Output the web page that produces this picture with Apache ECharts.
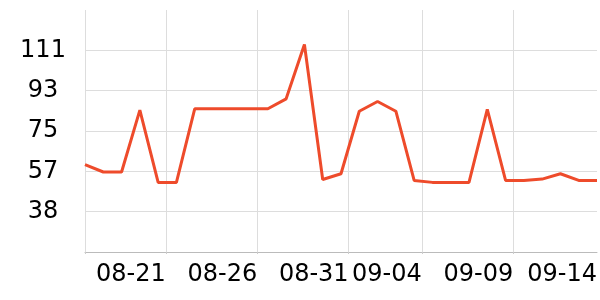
<!DOCTYPE html>
<html>
<head>
<meta charset="utf-8">
<script src="https://cdn.jsdelivr.net/npm/echarts@6/dist/echarts.min.js"></script>
<style>
  html, body { margin: 0; padding: 0; background: #fff; }
  #chart { width: 600px; height: 300px; }
</style>
</head>
<body>
<div id="chart"></div>
<script>
// Daily observations (taken at 14:00 UTC)
const dates = [
  '2023-08-16','2023-08-17','2023-08-18','2023-08-19','2023-08-20','2023-08-21',
  '2023-08-22','2023-08-23','2023-08-24','2023-08-25','2023-08-26','2023-08-27',
  '2023-08-28','2023-08-29','2023-08-30','2023-08-31','2023-09-01','2023-09-02',
  '2023-09-03','2023-09-04','2023-09-05','2023-09-06','2023-09-07','2023-09-08',
  '2023-09-09','2023-09-10','2023-09-11','2023-09-12','2023-09-13'
];
const values = [
  59.6, 56.3, 56.3, 84.3, 51.6, 51.6,
  84.9, 84.9, 84.9, 84.9, 84.9, 89.4,
  114.0, 52.9, 55.5, 83.8, 88.2, 83.8,
  52.5, 51.6, 51.6, 51.6, 84.6, 52.5,
  52.5, 53.1, 55.5, 52.5, 52.5
];
const obsHour = 14;
// x-axis tick dates (gridlines) and labels
const xTickDates = ['2023-08-21','2023-08-26','2023-08-31','2023-09-04','2023-09-09'];
const xLabelDates = ['2023-08-21','2023-08-26','2023-08-31','2023-09-04','2023-09-09','2023-09-14'];
// y-axis
const yMin = 20.1, yMax = 129.6;
const yTicks = [38.35, 56.6, 74.85, 93.1, 111.35];

const DAY = 86400000;
function ts(d, h) {
  const p = d.split('-').map(Number);
  return Date.UTC(p[0], p[1] - 1, p[2], h || 0);
}
const seriesData = dates.map((d, i) => [ts(d, obsHour), values[i]]);
const xMin = seriesData[0][0];
const xMax = seriesData[seriesData.length - 1][0];
const xTicks = [xMin].concat(xTickDates.map(d => ts(d)));
const xLabels = xLabelDates.map(d => Math.min(ts(d), xMax));
function pad(n) { return (n < 10 ? '0' : '') + n; }

const chart = echarts.init(document.getElementById('chart'), null, { renderer: 'canvas' });
chart.setOption({
  animation: false,
  grid: { left: 85, right: 1, top: 10, bottom: 48, containLabel: false },
  xAxis: {
    type: 'value',
    min: xMin,
    max: xMax,
    axisLine: { show: true, lineStyle: { color: '#bbbbbb', width: 1 } },
    axisTick: { show: true, length: 2, customValues: xTicks, lineStyle: { color: '#cccccc' } },
    splitLine: { show: true, lineStyle: { color: '#dddddd', width: 1 } },
    axisLabel: {
      customValues: xLabels,
      align: 'right',
      margin: 11,
      fontFamily: 'DejaVu Sans',
      fontSize: 24,
      color: '#000',
      hideOverlap: false,
      formatter: function (v) {
        const d = new Date(Math.round(v / DAY) * DAY);
        return pad(d.getUTCMonth() + 1) + '-' + pad(d.getUTCDate());
      }
    }
  },
  yAxis: {
    type: 'value',
    min: yMin,
    max: yMax,
    axisLine: { show: false },
    axisTick: { show: false, customValues: yTicks },
    splitLine: { show: true, lineStyle: { color: '#dddddd', width: 1 } },
    axisLabel: {
      customValues: yTicks,
      align: 'center',
      margin: 42,
      fontFamily: 'DejaVu Sans',
      fontSize: 24,
      color: '#000',
      formatter: function (v) { return String(Math.round(v)); }
    }
  },
  series: [{
    type: 'line',
    data: seriesData,
    showSymbol: false,
    symbol: 'none',
    lineStyle: { color: '#ee4b2b', width: 3 },
    itemStyle: { color: '#ee4b2b' }
  }]
});
</script>
</body>
</html>
